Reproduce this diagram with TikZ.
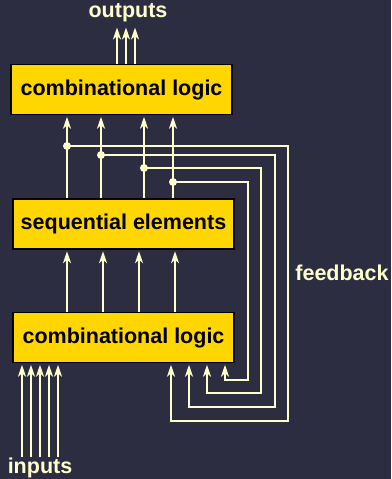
\documentclass[tikz,border=0pt]{standalone}
\usepackage{fontspec}
\setmainfont{Liberation Sans}
\usetikzlibrary{arrows.meta}
\definecolor{bgnavy}{RGB}{45,45,66}
\definecolor{wire}{RGB}{255,255,204}
\definecolor{blockfill}{RGB}{255,214,0}
\tikzset{
  block/.style={draw=black, line width=1.5pt, fill=blockfill, minimum width=221pt,
    minimum height=50pt, inner sep=0pt, font=\fontsize{21.5}{26}\selectfont\bfseries},
  lbl/.style={text=wire, font=\fontsize{21.5}{26}\selectfont\bfseries, inner sep=0pt},
  wirel/.style={draw=wire, line width=2pt},
  sig/.style={wirel, -{Stealth[length=12pt,width=8pt,inset=3.5pt]}, shorten >=1.5pt},
  junction/.style={circle, fill=wire, inner sep=0pt, minimum size=8pt},
}
\begin{document}
\begin{tikzpicture}[x=1pt,y=-1pt]
  \fill[bgnavy] (0,0) rectangle (391,479);
  \useasboundingbox (0,0) rectangle (391,479);

  % the three blocks
  \node[block] (top) at (121.5,89.5) {combinational logic};
  \node[block] (seq) at (123.5,224) {sequential elements};
  \node[block] (bot) at (123.5,337.5) {combinational logic};

  % labels
  \node[lbl] (outl) at (128,13) {outputs};
  \node[lbl] (inl) at (40,468) {inputs};
  \node[lbl] (fbl) at (342,273) {feedback};

  % outputs
  \foreach \x [count=\i] in {117,126,135} {
    \coordinate (o\i) at (\x,26);
    \draw[sig] (top.north -| o\i) -- (o\i);
  }

  % inputs
  \foreach \x [count=\i] in {22,31,40,49,58} {
    \coordinate (in\i) at (\x,457);
    \draw[sig] (in\i) -- (bot.south -| in\i);
  }

  % combinational logic -> sequential elements
  \foreach \x [count=\i] in {67,103,139,175} {
    \coordinate (m\i) at (\x,0);
    \draw[sig] (bot.north -| m\i) -- (seq.south -| m\i);
  }

  % state lines: sequential elements -> combinational logic, with taps
  \node[junction] (d1) at (67,146) {};
  \node[junction] (d2) at (101,155) {};
  \node[junction] (d3) at (144,168) {};
  \node[junction] (d4) at (173,182) {};
  \foreach \i in {1,2,3,4} {
    \draw[wirel] (seq.north -| d\i) -- (d\i.center);
    \draw[sig] (d\i.center) -- (top.south -| d\i);
  }

  % feedback loops
  \coordinate (f1) at (288,421);
  \coordinate (f2) at (275,407);
  \coordinate (f3) at (261,393);
  \coordinate (f4) at (248,380);
  \coordinate (r1) at (171,0);
  \coordinate (r2) at (189,0);
  \coordinate (r3) at (207,0);
  \coordinate (r4) at (225,0);
  \foreach \i in {1,2,3,4} {
    \draw[sig] (d\i.center) -| (f\i) -| (bot.south -| r\i);
  }
\end{tikzpicture}
\end{document}
